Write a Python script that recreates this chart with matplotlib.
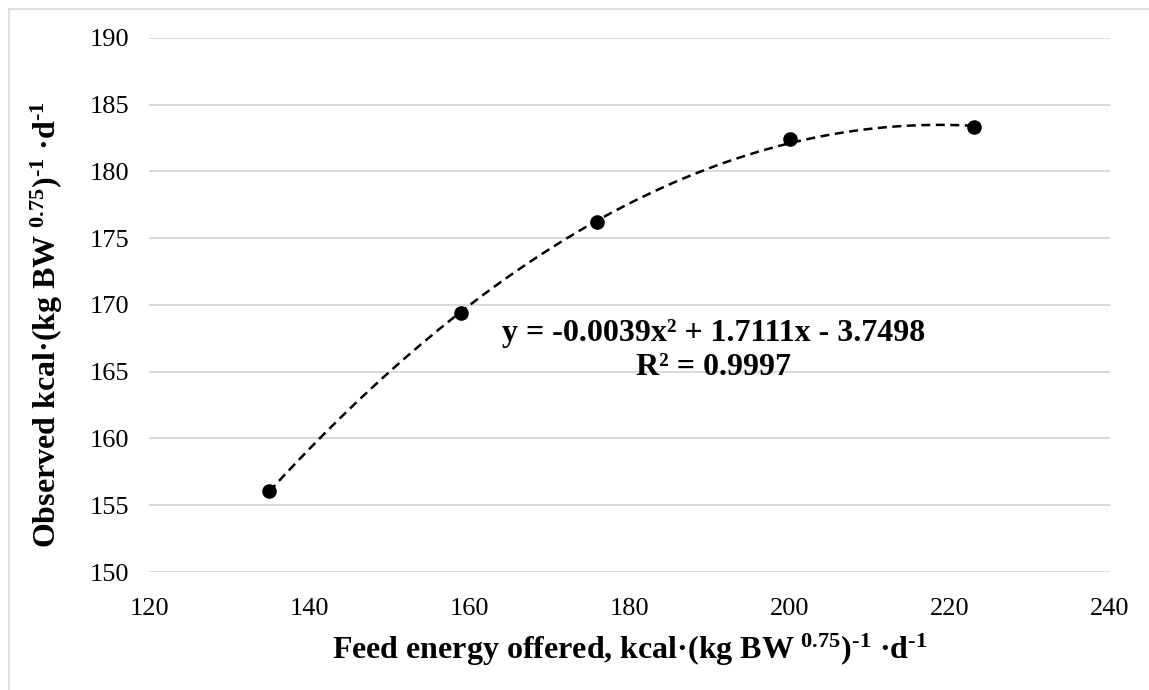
import numpy as np
import matplotlib.pyplot as plt
from matplotlib.lines import Line2D

# data
feed_energy = [135, 159, 176, 200, 223]
observed = [156.1, 169.4, 176.2, 182.4, 183.3]

x_ticks = [120, 140, 160, 180, 200, 220, 240]
y_ticks = [150, 155, 160, 165, 170, 175, 180, 185, 190]

eq_text = "y = -0.0039x² + 1.7111x - 3.7498\nR² = 0.9997"

plt.rcParams['font.family'] = ['Liberation Serif', 'DejaVu Serif']
plt.rcParams['mathtext.fontset'] = 'custom'
plt.rcParams['mathtext.rm'] = 'Liberation Serif:bold'
plt.rcParams['mathtext.bf'] = 'Liberation Serif:bold'
plt.rcParams['mathtext.default'] = 'bf'

fig = plt.figure(figsize=(11.49, 6.9), dpi=100)
ax = fig.add_axes([0.1297, 0.171, 0.8363, 0.774])

# polynomial trendline (order 2) fitted to the points
coef = np.polyfit(feed_energy, observed, 2)
xs = np.linspace(min(feed_energy), max(feed_energy), 200)
ax.plot(xs, np.polyval(coef, xs), color='black', lw=1.8, ls=(0, (3.6, 2.2)), zorder=3)

ax.plot(feed_energy, observed, 'o', color='black', markersize=9.5, zorder=4)

ax.set_xlim(120, 240)
ax.set_ylim(150, 190)
ax.set_xticks(x_ticks)
ax.set_yticks(y_ticks)
ax.tick_params(length=0, labelsize=19, pad=14)
ax.tick_params(axis='x', pad=19)
ax.grid(axis='y', color='#d9d9d9', lw=1.4)
ax.set_axisbelow(True)
for s in ax.spines.values():
    s.set_visible(False)

unit = r"kcal·(kg BW$^{\ 0.75}$)$^{\text{-}1}$ ·d$^{\text{-}1}$"
ax.set_xlabel("Feed energy offered, " + unit, fontsize=23, fontweight='bold', labelpad=8)
ax.set_ylabel("Observed " + unit, fontsize=23, fontweight='bold')
ax.yaxis.set_label_coords(-0.106, 0.4625)
ax.yaxis.label.set_verticalalignment('center')

ax.text(190.5, 166.6, eq_text, ha='center', va='center', fontsize=23,
        fontweight='bold', linespacing=1.2)

# chart area border (Excel style), only top/left visible in the crop
fig.add_artist(Line2D([8.5 / 1149, 8.5 / 1149], [0, 1 - 9 / 690], color='#d9d9d9', lw=1.2))
fig.add_artist(Line2D([8.5 / 1149, 1], [1 - 9 / 690, 1 - 9 / 690], color='#d9d9d9', lw=1.2))

fig.savefig('out.png', dpi=100)
